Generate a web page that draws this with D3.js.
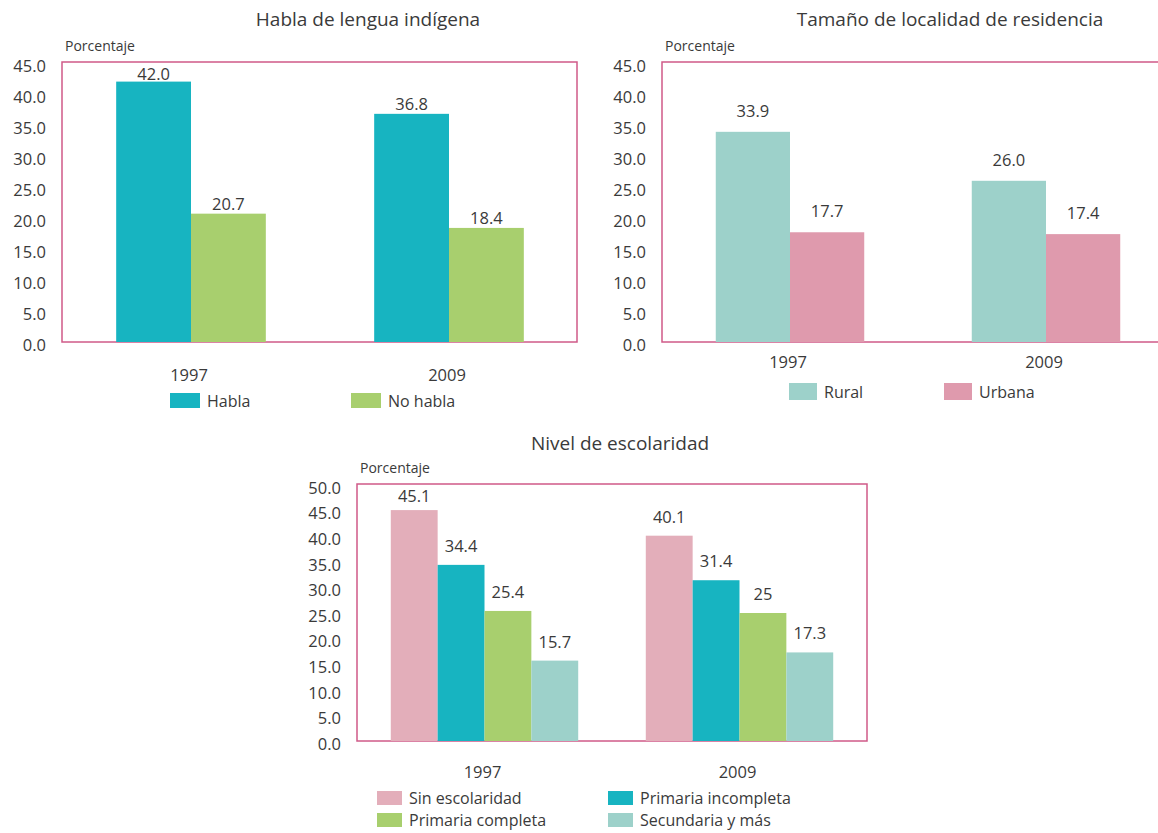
<!DOCTYPE html>
<html>
<head>
  <meta charset="utf-8">
  <style>
    body { margin: 0; background: #fff; }
    svg text { font-family: "Open Sans", "Noto Sans", sans-serif; fill: #3a3a3a; }
  </style>
  <script src="https://d3js.org/d3.v7.min.js"></script>
</head>
<body>
  <svg width="1158" height="833"></svg>
  <script>
    // --- data ---
    var years = ["1997", "2009"];

    var lenguaSeries = ["Habla", "No habla"];
    var lenguaHabla = [42.0, 36.8];
    var lenguaNoHabla = [20.7, 18.4];

    var localidadSeries = ["Rural", "Urbana"];
    var localidadRural = [33.9, 26.0];
    var localidadUrbana = [17.7, 17.4];

    var escolaridadSeries = ["Sin escolaridad", "Primaria incompleta", "Primaria completa", "Secundaria y más"];
    var sinEscolaridad = [45.1, 40.1];
    var primariaIncompleta = [34.4, 31.4];
    var primariaCompleta = [25.4, 25];
    var secundariaMas = [15.7, 17.3];

    var ticks45 = [0, 5, 10, 15, 20, 25, 30, 35, 40, 45];
    var ticks50 = [0, 5, 10, 15, 20, 25, 30, 35, 40, 45, 50];

    var teal = "#17b4c1", green = "#a8cf6e", mint = "#9dd1ca",
        rose = "#df9aad", blush = "#e3aeba", frameColor = "#cf5a88";

    var svg = d3.select("svg");

    function fmt(v, labels) { return labels === "raw" ? String(v) : v.toFixed(1); }

    function drawPanel(p) {
      var g = svg.append("g");
      var y = d3.scaleLinear().domain([0, p.max]).range([p.bottom, p.top]);
      var x0 = d3.scaleBand().domain(years).range([p.left, p.right])
        .paddingInner(p.pad).paddingOuter(p.pad / 2);
      var x1 = d3.scaleBand().domain(p.series).range([0, x0.bandwidth()]);

      // frame
      g.append("rect")
        .attr("x", p.left).attr("y", p.top - 1)
        .attr("width", p.frameRight - p.left).attr("height", p.bottom - p.top + 1)
        .attr("fill", "none").attr("stroke", frameColor).attr("stroke-width", 1.5);

      // title and unit
      g.append("text").attr("x", p.titleX).attr("y", p.titleY)
        .attr("text-anchor", "middle").style("font-size", "19px").text(p.title);
      g.append("text").attr("x", p.left + 3).attr("y", p.top - 12)
        .style("font-size", "14px").text("Porcentaje");

      // y axis labels
      var yAxis = d3.axisLeft(y).tickValues(p.ticks).tickSize(0).tickPadding(0)
        .tickFormat(function(d) { return d.toFixed(1); });
      var ag = g.append("g").attr("transform", "translate(" + (p.left - 16) + ",3)").call(yAxis);
      ag.select(".domain").remove();
      ag.selectAll("text").style("font-size", "16.5px").style("font-family", null).attr("fill", null);

      // x axis labels
      var xAxis = d3.axisBottom(x0).tickSize(0).tickPadding(0);
      var xg = g.append("g").attr("transform", "translate(-2," + (p.bottom + p.yearGap) + ")").call(xAxis);
      xg.select(".domain").remove();
      xg.selectAll("text").style("font-size", "16.5px").style("font-family", null).attr("fill", null);

      // bars
      var rows = [];
      years.forEach(function(yr, i) {
        p.series.forEach(function(s, j) {
          rows.push({ year: yr, key: s, value: p.values[j][i], color: p.colors[j] });
        });
      });
      var bars = g.selectAll("g.bar").data(rows).enter().append("g").attr("class", "bar");
      bars.append("rect")
        .attr("x", function(d) { return x0(d.year) + x1(d.key); })
        .attr("y", function(d) { return y(d.value); })
        .attr("width", x1.bandwidth())
        .attr("height", function(d) { return p.bottom - y(d.value); })
        .attr("fill", function(d) { return d.color; });
      bars.append("text")
        .attr("x", function(d) { return x0(d.year) + x1(d.key) + x1.bandwidth() / 2; })
        .attr("y", function(d) { return Math.max(y(d.value) - p.labelGap, p.top + 17); })
        .attr("text-anchor", "middle").style("font-size", "16.5px")
        .text(function(d) { return fmt(d.value, p.labelFmt); });

      // legend
      var lg = g.selectAll("g.leg").data(p.series).enter().append("g").attr("class", "leg")
        .attr("transform", function(d, i) { return "translate(" + p.legend[i][0] + "," + p.legend[i][1] + ")"; });
      lg.append("rect").attr("width", p.swatch[0]).attr("height", p.swatch[1])
        .attr("fill", function(d, i) { return p.colors[i]; });
      lg.append("text").attr("x", p.swatch[0] + 7).attr("y", p.swatch[1] / 2 + 6)
        .style("font-size", "16px").text(function(d) { return d; });
    }

    drawPanel({
      title: "Habla de lengua indígena", titleX: 368, titleY: 26,
      series: lenguaSeries, values: [lenguaHabla, lenguaNoHabla], colors: [teal, green],
      max: 45, ticks: ticks45, left: 62, right: 578, frameRight: 577, top: 63, bottom: 342,
      pad: 0.42, labelGap: 4, yearGap: 27, labelFmt: "fixed",
      swatch: [30, 15], legend: [[170, 393], [351, 393]]
    });

    drawPanel({
      title: "Tamaño de localidad de residencia", titleX: 950, titleY: 26,
      series: localidadSeries, values: [localidadRural, localidadUrbana], colors: [mint, rose],
      max: 45, ticks: ticks45, left: 662, right: 1174, frameRight: 1180, top: 63, bottom: 342,
      pad: 0.42, labelGap: 15, yearGap: 14, labelFmt: "fixed",
      swatch: [28, 17], legend: [[789, 383], [944, 383]]
    });

    drawPanel({
      title: "Nivel de escolaridad", titleX: 620, titleY: 450,
      series: escolaridadSeries, values: [sinEscolaridad, primariaIncompleta, primariaCompleta, secundariaMas],
      colors: [blush, teal, green, mint],
      max: 50, ticks: ticks50, left: 357, right: 867, frameRight: 867, top: 485, bottom: 741,
      pad: 0.265, labelGap: 13, yearGap: 25, labelFmt: "raw",
      swatch: [25, 14], legend: [[377, 791], [608, 791], [377, 813], [608, 813]]
    });
  </script>
</body>
</html>
